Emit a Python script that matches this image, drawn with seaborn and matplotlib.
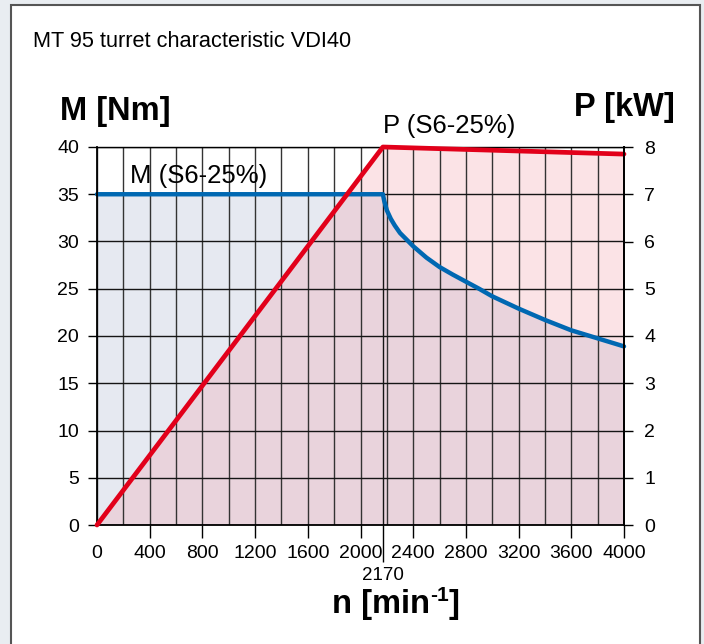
import matplotlib
matplotlib.use("Agg")
import matplotlib.pyplot as plt
import matplotlib.patches as mpatches
import numpy as np
import pandas as pd
import seaborn as sns

# ---------------- data ----------------
title = "MT 95 turret characteristic VDI40"
n_torque = [0, 2170, 2180, 2200, 2230, 2260, 2300, 2350, 2400, 2500, 2600, 2700,
            2800, 2900, 3000, 3200, 3400, 3600, 3800, 4000]
torque_nm = [35, 35, 34.3, 33.3, 32.4, 31.7, 30.9, 30.2, 29.5, 28.3, 27.3, 26.5,
             25.75, 25.0, 24.2, 22.9, 21.7, 20.6, 19.75, 18.9]
n_power = [0, 2170, 4000]
power_kw = [0, 8.0, 7.85]
n_corner = 2170
x_ticks = [0, 400, 800, 1200, 1600, 2000, 2400, 2800, 3200, 3600, 4000]
x_grid = list(range(0, 4001, 200))
m_ticks = [0, 5, 10, 15, 20, 25, 30, 35, 40]
p_ticks = [0, 1, 2, 3, 4, 5, 6, 7, 8]

# ---------------- style ----------------
sns.set_style("white")
plt.rcParams["font.family"] = ["Liberation Sans", "DejaVu Sans"]
plt.rcParams["text.color"] = "black"
plt.rcParams["axes.labelcolor"] = "black"

W, H = 704, 644
fig = plt.figure(figsize=(W / 100, H / 100), dpi=100)
fig.patch.set_facecolor("#e9edf1")


def fx(px):
    return px / W


def fy(py):
    return 1 - py / H


panel = mpatches.Rectangle((fx(11), -0.02), fx(700) - fx(11), fy(5) + 0.02,
                           transform=fig.transFigure, facecolor="white",
                           edgecolor="#555555", lw=1.5, zorder=-10)
fig.add_artist(panel)

rect = [fx(97), fy(525), fx(624) - fx(97), fy(147) - fy(525)]

df_m = pd.DataFrame({"n": n_torque, "M": torque_nm})
df_p = pd.DataFrame({"n": n_power, "P": power_kw})

# fill layers
ax_mfill = fig.add_axes(rect)
ax_pfill = ax_mfill.twinx()
ax_mfill.fill_between(df_m["n"], 0, df_m["M"], color="#e6e9f1", lw=0)
ax_pfill.fill_between(df_p["n"], 0, df_p["P"], color=(243 / 255, 147 / 255, 159 / 255),
                      alpha=0.25, lw=0)
for a in (ax_mfill, ax_pfill):
    a.set_xlim(0, 4000)
    a.axis("off")
ax_mfill.set_ylim(0, 40)
ax_pfill.set_ylim(0, 8)
ax_mfill.set_zorder(0)
ax_pfill.set_zorder(1)

# line layers
ax = fig.add_axes(rect)
ax2 = ax.twinx()
ax.set_zorder(2)
ax2.set_zorder(3)
ax.patch.set_visible(False)
ax2.patch.set_visible(False)

blue = "#0068b2"
red = "#e2001a"
sns.lineplot(data=df_m, x="n", y="M", ax=ax, color=blue, linewidth=3.2, clip_on=False)
sns.lineplot(data=df_p, x="n", y="P", ax=ax2, color=red, linewidth=3.4, clip_on=False,
             solid_capstyle="round")

ax.set_xlim(0, 4000)
ax.set_ylim(0, 40)
ax2.set_ylim(0, 8)
for a in (ax, ax2):
    a.set_xlabel("")
    a.set_ylabel("")

ax.set_xticks(x_ticks)
ax.set_xticks(x_grid, minor=True)
ax.set_yticks(m_ticks)
ax2.set_yticks(p_ticks)

ax.set_axisbelow("line")
ax.grid(which="both", axis="x", color="#333333", lw=1.0)
ax.grid(which="major", axis="y", color="#151515", lw=1.0)
ax.axvline(n_corner, color="#151515", lw=1.0, zorder=1.5)

ax.tick_params(axis="x", which="major", direction="out", length=9, width=1,
               pad=5.5, labelsize=14, bottom=True, top=False, colors="black")
ax.tick_params(axis="x", which="minor", length=0)
ax.tick_params(axis="y", direction="out", length=6.5, width=1, pad=6.5,
               labelsize=14, left=True, right=False, colors="black")
ax2.tick_params(axis="y", direction="out", length=6.5, width=1, pad=8,
                labelsize=14, right=True, left=False, colors="black")
ax.xaxis.get_major_ticks()[0].tick1line.set_visible(False)

for s in ax.spines.values():
    s.set_color("black")
    s.set_linewidth(1.3)
ax.spines["top"].set_linewidth(1.0)
for k, s in ax2.spines.items():
    s.set_visible(k == "right")
    s.set_color("black")
    s.set_linewidth(1.3)

sec = ax.secondary_xaxis("bottom")
sec.set_xticks([n_corner], labels=[str(n_corner)])
sec.tick_params(length=26.5, width=1, pad=4, labelsize=13.5, colors="black")
for s in sec.spines.values():
    s.set_visible(False)

# ---------------- texts ----------------
fig.text(fx(33), fy(47), title, fontsize=15.7, va="baseline", ha="left")
fig.text(fx(60), fy(120), "M [Nm]", fontsize=23.5, fontweight="bold", va="baseline", ha="left")
fig.text(fx(574), fy(116), "P [kW]", fontsize=23.5, fontweight="bold", va="baseline", ha="left")
fig.text(fx(383), fy(133), "P (S6-25%)", fontsize=18.5, va="baseline", ha="left")
fig.text(fx(130), fy(183), "M (S6-25%)", fontsize=18.5, va="baseline", ha="left")

t1 = fig.text(fx(332), fy(613), "n [min", fontsize=23.5, fontweight="bold",
              va="baseline", ha="left")
sup = ax.annotate("-1", xy=(1, 1), xycoords=t1, xytext=(0, 2), textcoords="offset points",
                  fontsize=15, fontweight="bold", ha="left", va="top",
                  annotation_clip=False)
ax.annotate("]", xy=(1, 0), xycoords=(sup, t1), fontsize=23.5, fontweight="bold",
            ha="left", va="bottom", annotation_clip=False)

fig.savefig("out.png", dpi=100, facecolor=fig.get_facecolor())
